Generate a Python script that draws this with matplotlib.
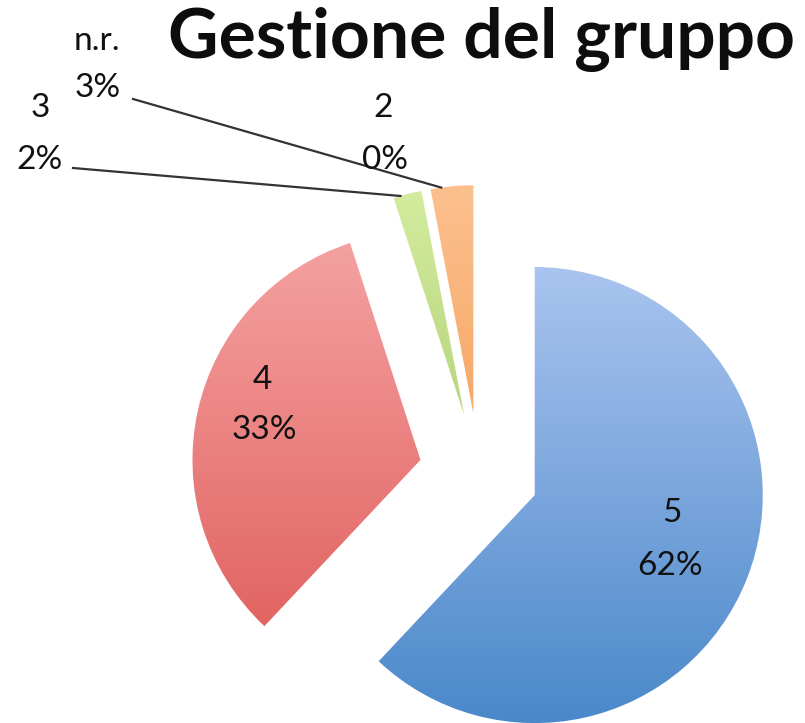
import numpy as np
import matplotlib
matplotlib.use("Agg")
import matplotlib.pyplot as plt
from matplotlib.colors import LinearSegmentedColormap

# data
categories = ["5", "4", "3", "2", "n.r."]
percent = [62, 33, 2, 0, 3]
top_colors = ["#aac4ef", "#f5a3a3", "#d3ec9f", "#a48cc4", "#fcc08f"]
bottom_colors = ["#4a88ca", "#de5b58", "#9cbf5a", "#7a5fa0", "#f0913f"]
title = "Gestione del gruppo"

W, H = 805, 723
CX, CY, R = 479, 473, 228  # pie centre / radius in pixels


def px(x, y):
    # pixel position -> data units (radius 1 = R px)
    return (x - CX) / R, (CY - y) / R


plt.rcParams['font.family'] = ['Lato', 'DejaVu Sans']
fig = plt.figure(figsize=(W / 100, H / 100), dpi=100)
ax = fig.add_axes([0, 0, 1, 1])

wedges, _ = ax.pie(percent, startangle=90, counterclock=False,
                   explode=[0.263] * len(percent),
                   colors=bottom_colors,
                   wedgeprops=dict(edgecolor="white", linewidth=1.0))

# vertical gradient fill for each slice
grad = np.linspace(1, 0, 256).reshape(-1, 1)
for w, c1, c2 in zip(wedges, top_colors, bottom_colors):
    cx, cy = w.center
    r = w.r
    cmap = LinearSegmentedColormap.from_list("g", [c2, c1])
    im = ax.imshow(grad, cmap=cmap, extent=[cx - r, cx + r, cy - r, cy + r],
                   aspect="auto", origin="upper", zorder=w.get_zorder() + 0.1,
                   interpolation="bilinear")
    im.set_clip_path(w)

txt = dict(fontsize=24, color="#111111", ha="center", va="center", zorder=10)

# labels inside the two big slices
inner_pos = {"5": ((672, 513), (670, 566)), "4": ((262, 380), (264, 430))}
# labels outside with leader lines
outer_pos = {"3": ((40, 108), (40, 160), (73, 168)),
             "2": ((383, 108), (385, 160), None),
             "n.r.": ((97, 41), (98, 88), (133, 99))}

for w, cat, p in zip(wedges, categories, percent):
    if cat in inner_pos:
        (a, b) = inner_pos[cat]
        ax.text(*px(*a), cat, **txt)
        ax.text(*px(*b), f"{p}%", **txt)
    else:
        a, b, line_start = outer_pos[cat]
        ax.text(*px(*a), cat, **txt)
        ax.text(*px(*b), f"{p}%", **txt)
        if line_start is not None:
            t = np.deg2rad(w.theta1 + 0.75 * (w.theta2 - w.theta1))
            ex = w.center[0] + w.r * np.cos(t)
            ey = w.center[1] + w.r * np.sin(t)
            sx, sy = px(*line_start)
            ax.plot([sx, ex], [sy, ey], color="#333333", lw=1.6, zorder=5)

ax.text(*px(481, 40), title, fontsize=50, fontweight="bold", color="#0d0d0d",
        ha="center", va="center", zorder=10)

ax.set_xlim(-CX / R, (W - CX) / R)
ax.set_ylim(-(H - CY) / R, CY / R)
ax.set_aspect("auto")
ax.axis("off")

fig.savefig("out.png", dpi=100, facecolor="white")
